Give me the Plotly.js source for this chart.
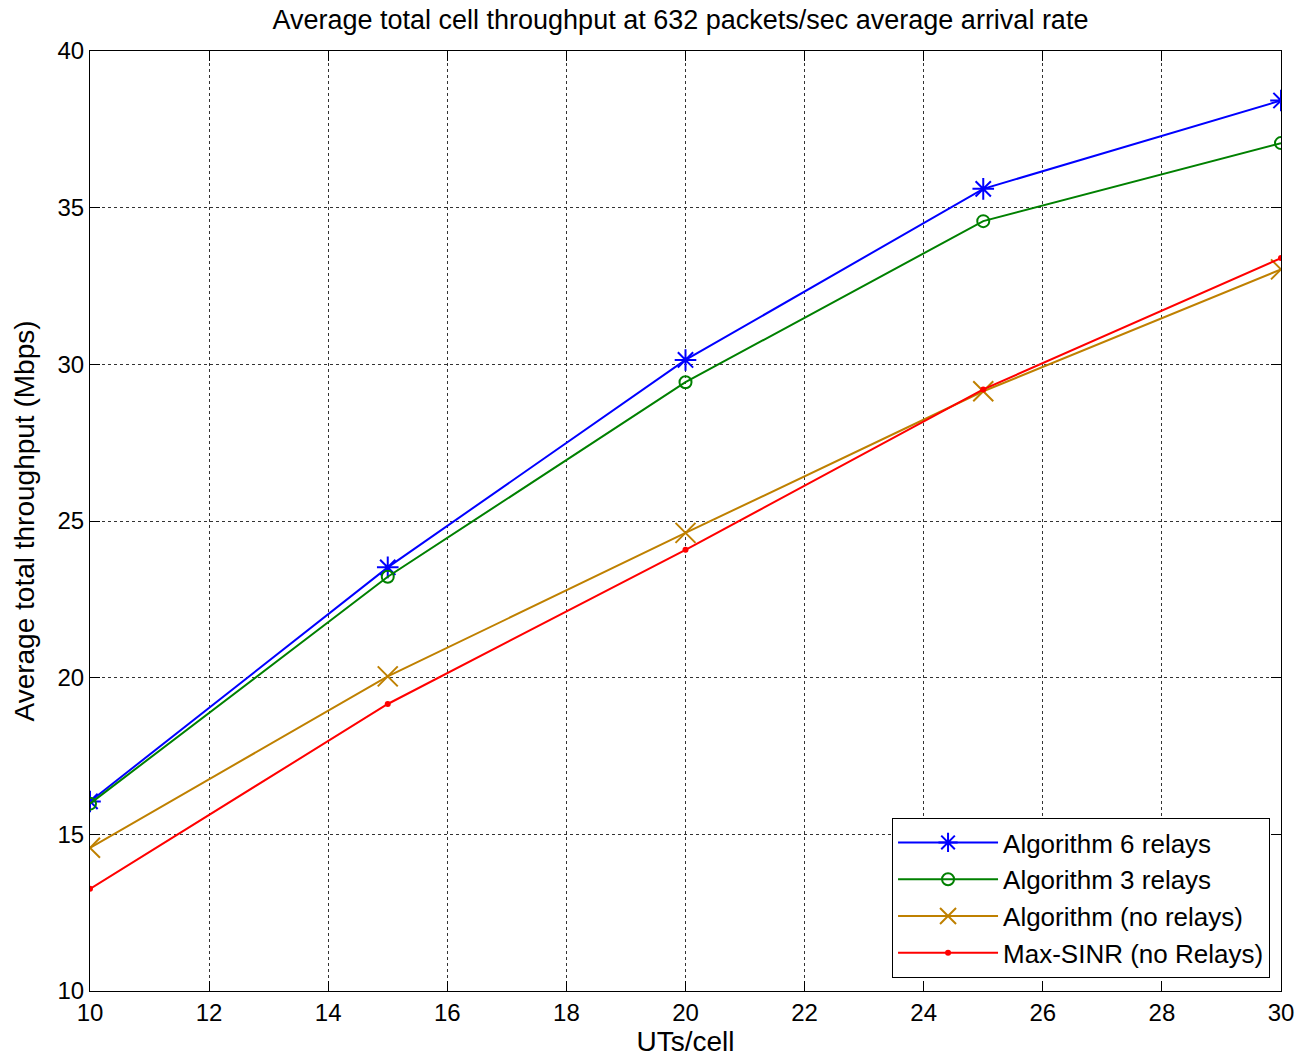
<!DOCTYPE html>
<html>
<head>
<meta charset="utf-8">
<script src="https://cdn.plot.ly/plotly-3.0.1.min.js"></script>
<style>html,body{margin:0;padding:0;background:#fff;}#chart{width:1301px;height:1061px;}</style>
</head>
<body>
<div id="chart"></div>
<script>
const utsPerCell = [10, 15, 20, 25, 30];
const alg6Relays = [16.05, 23.52, 30.14, 35.6, 38.42];
const alg3Relays = [15.98, 23.22, 29.43, 34.57, 37.06];
const algNoRelays = [14.57, 20.04, 24.62, 29.14, 33.03];
const maxSinrNoRelays = [13.26, 19.16, 24.08, 29.2, 33.39];
const seriesNames = ['Algorithm 6 relays', 'Algorithm 3 relays', 'Algorithm (no relays)', 'Max-SINR (no Relays)'];
const xTicks = [10, 12, 14, 16, 18, 20, 22, 24, 26, 28, 30];
const yTicks = [10, 15, 20, 25, 30, 35, 40];

const font = 'Liberation Sans, Arial, sans-serif';

const traces = [
  {x: utsPerCell, y: alg6Relays, name: seriesNames[0], mode: 'lines+markers',
   line: {color: '#0000ff', width: 2}, marker: {symbol: 'asterisk-open', size: 18, color: '#0000ff', line: {color: '#0000ff', width: 2}}},
  {x: utsPerCell, y: alg3Relays, name: seriesNames[1], mode: 'lines+markers',
   line: {color: '#008000', width: 2}, marker: {symbol: 'circle-open', size: 12, color: '#008000', line: {color: '#008000', width: 2}}},
  {x: utsPerCell, y: algNoRelays, name: seriesNames[2], mode: 'lines+markers',
   line: {color: '#bf8000', width: 2}, marker: {symbol: 'x-thin-open', size: 20, color: '#bf8000', line: {color: '#bf8000', width: 2}}},
  {x: utsPerCell, y: maxSinrNoRelays, name: seriesNames[3], mode: 'lines+markers',
   line: {color: '#ff0000', width: 2}, marker: {symbol: 'circle', size: 6, color: '#ff0000'}}
];

const axisCommon = {
  showline: true, linecolor: '#000', linewidth: 1, mirror: 'ticks',
  ticks: 'inside', ticklen: 10, tickcolor: '#000', tickwidth: 1,
  showgrid: true, gridcolor: '#333', griddash: 'dot', gridwidth: 1,
  zeroline: false, tickfont: {family: font, size: 24, color: '#000'}
};

const layout = {
  width: 1301, height: 1061,
  paper_bgcolor: '#fff', plot_bgcolor: '#fff',
  margin: {l: 90, r: 20, t: 51, b: 70},
  title: {text: 'Average total cell throughput at 632 packets/sec average arrival rate',
          font: {family: font, size: 27, color: '#000'}, x: 0.523, xanchor: 'center', y: 1 - 20/1061, yanchor: 'middle', yref: 'container'},
  xaxis: Object.assign({}, axisCommon, {range: [10, 30], tickvals: xTicks,
          title: {text: 'UTs/cell', font: {family: font, size: 28, color: '#000'}, standoff: 6}}),
  yaxis: Object.assign({}, axisCommon, {range: [10, 40], tickvals: yTicks,
          title: {text: 'Average total throughput (Mbps)', font: {family: font, size: 28, color: '#000'}, standoff: 14}}),
  showlegend: true,
  legend: {x: 0.9908, xanchor: 'right', y: 0.0138, yanchor: 'bottom',
           bgcolor: '#fff', bordercolor: '#000', borderwidth: 1,
           font: {family: font, size: 26, color: '#000'}, itemwidth: 100, tracegroupgap: 0}
};

Plotly.newPlot('chart', traces, layout, {displayModeBar: false, staticPlot: true});
</script>
</body>
</html>
